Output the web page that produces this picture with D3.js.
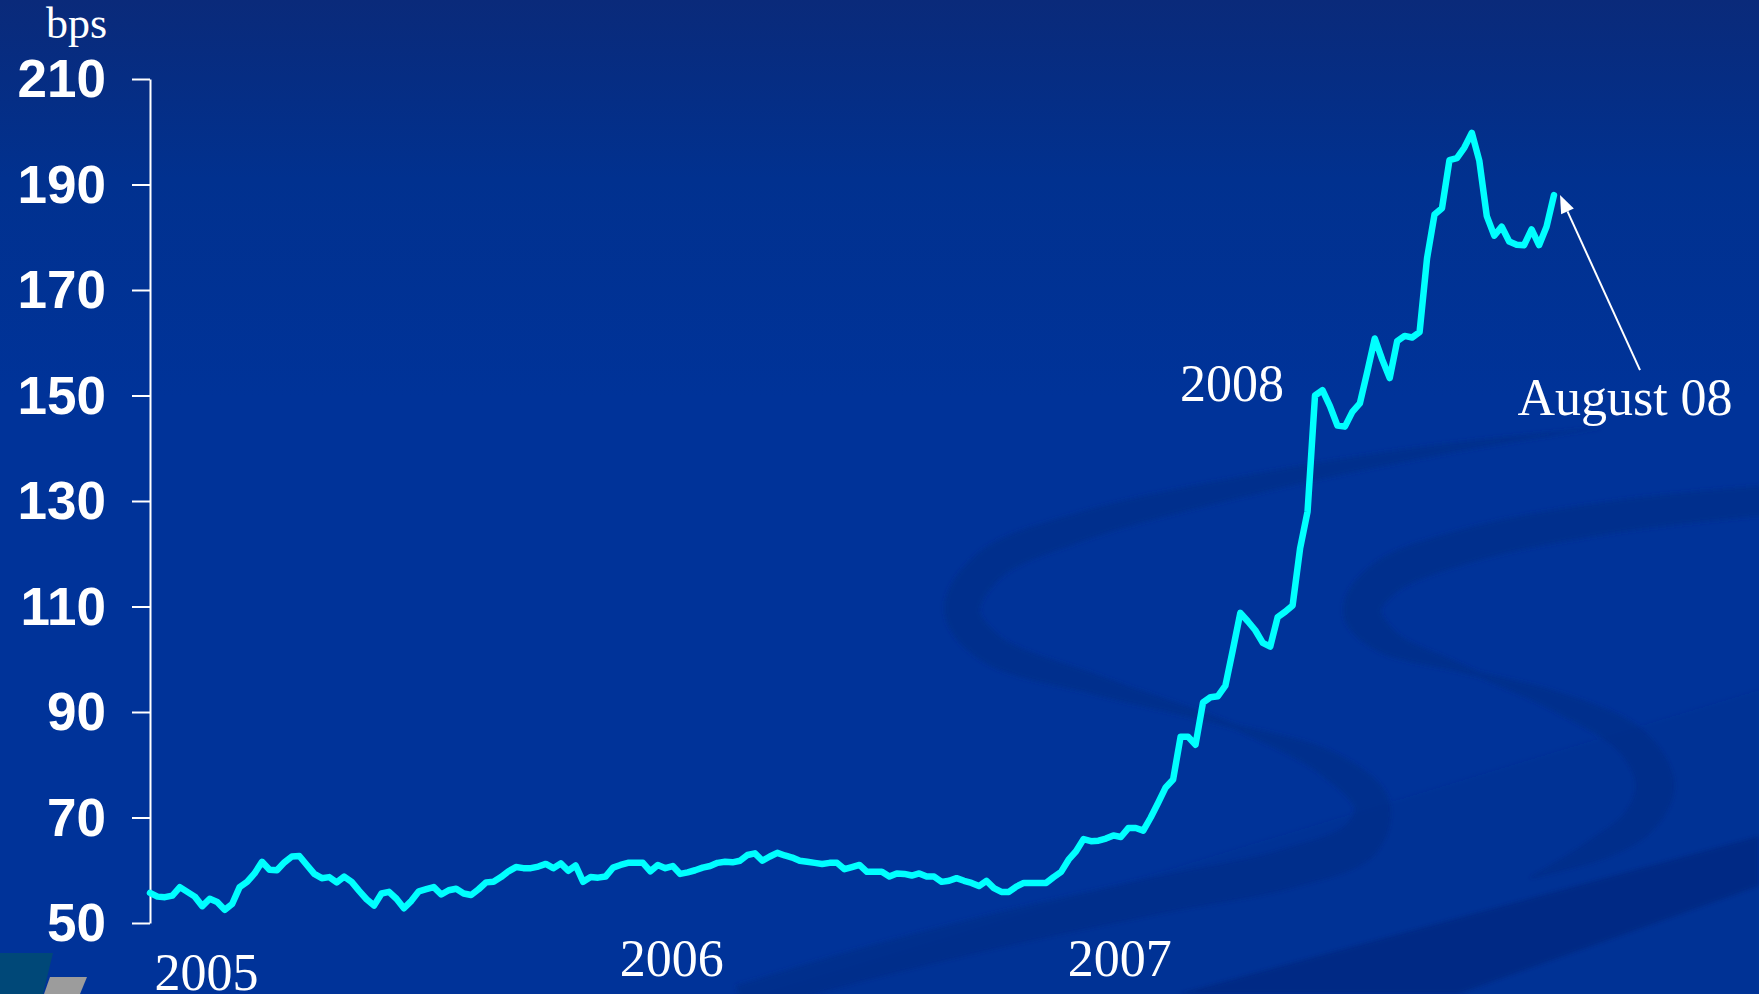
<!DOCTYPE html>
<html>
<head>
<meta charset="utf-8">
<script src="https://cdn.jsdelivr.net/npm/d3@7"></script>
<style>
  html, body { margin: 0; padding: 0; background: #003399; overflow: hidden; }
  svg { display: block; }
</style>
</head>
<body>
<svg id="chart" width="1759" height="994"></svg>
<script>
// Weekly spread observations (bps), first observation week ending 2005-01-07
const firstWeek = "2005-01-07";
const spread = [
  55.7, 55.0, 54.9, 55.2, 56.8, 55.9, 55.0, 53.2, 54.6, 54.0,
  52.5, 53.6, 56.8, 57.8, 59.4, 61.6, 60.1, 60.0, 61.5, 62.6,
  62.7, 61.0, 59.3, 58.5, 58.7, 57.7, 58.8, 57.8, 56.1, 54.5,
  53.3, 55.6, 55.9, 54.6, 52.8, 54.2, 56.0, 56.4, 56.8, 55.4,
  56.2, 56.5, 55.6, 55.3, 56.4, 57.7, 57.8, 58.7, 59.8, 60.6,
  60.4, 60.4, 60.7, 61.2, 60.4, 61.3, 59.9, 60.9, 57.8, 58.7,
  58.6, 58.8, 60.5, 61.0, 61.4, 61.4, 61.4, 59.8, 61.0, 60.4,
  60.8, 59.3, 59.6, 60.0, 60.5, 60.8, 61.4, 61.6, 61.5, 61.8,
  62.9, 63.2, 61.8, 62.6, 63.3, 62.8, 62.4, 61.8, 61.6, 61.4,
  61.2, 61.4, 61.4, 60.2, 60.6, 61.0, 59.7, 59.7, 59.7, 58.8,
  59.4, 59.3, 59.0, 59.4, 58.8, 58.8, 57.8, 58.0, 58.5, 58.0,
  57.6, 57.0, 58.0, 56.6, 55.9, 55.9, 56.9, 57.6, 57.6, 57.6,
  57.6, 58.7, 59.7, 62.0, 63.6, 65.9, 65.5, 65.6, 66.0, 66.6,
  66.3, 68.0, 68.0, 67.5, 70.0, 72.8, 75.7, 77.2, 85.3, 85.3,
  83.8, 91.8, 92.8, 93.0, 95.0, 101.8, 108.8, 107.2, 105.5, 103.1,
  102.4, 108.0, 109.0, 110.2, 121.0, 128.0, 150.0, 151.0, 148.0, 144.3,
  144.1, 146.9, 148.5, 154.5, 160.8, 156.8, 153.3, 160.3, 161.3, 161.0,
  162.0, 176.0, 184.3, 185.5, 194.6, 195.0, 197.0, 199.8, 194.5, 184.0,
  180.3, 182.0, 179.2, 178.6, 178.5, 181.5, 178.5, 182.0, 188.0
];

// Axis ticks and labels
const yTicks = [50, 70, 90, 110, 130, 150, 170, 190, 210];
const unitLabel = "bps";
const yearLabels = ["2005", "2006", "2007", "2008"];
const yearLabelDates = ["2005-03-01", "2006-05-11", "2007-07-05", "2007-12-06"];
const calloutLabel = "August 08";

// ---------------------------------------------------------------
const W = 1759, H = 994;
const svg = d3.select("#chart");
const parse = d3.utcParse("%Y-%m-%d");
const start = parse(firstWeek);
const series = spread.map((v, i) => ({ date: d3.utcDay.offset(start, 7 * i), value: v }));

const x = d3.scaleUtc()
  .domain([series[0].date, series[series.length - 1].date])
  .range([150, 1554]);
const y = d3.scaleLinear().domain([50, 210]).range([923, 79]);

// ---- background -------------------------------------------------
const defs = svg.append("defs");
const bg = defs.append("linearGradient").attr("id", "bgGrad")
  .attr("x1", 0).attr("y1", 0).attr("x2", 0).attr("y2", 1);
bg.append("stop").attr("offset", "0").attr("stop-color", "#0a2a7a");
bg.append("stop").attr("offset", "0.18").attr("stop-color", "#01318f");
bg.append("stop").attr("offset", "0.40").attr("stop-color", "#003399");
bg.append("stop").attr("offset", "1").attr("stop-color", "#003399");
defs.append("filter").attr("id", "soft")
  .append("feGaussianBlur").attr("stdDeviation", 2);

svg.append("rect").attr("width", W).attr("height", H).attr("fill", "url(#bgGrad)");

// decorative ribbons: variable-width band around a smooth centre line
function ribbon(points, tStops, wStops, n = 300) {
  const p = svg.append("path")
    .attr("d", d3.line().curve(d3.curveCatmullRom.alpha(0.5))(points))
    .attr("fill", "none");
  const node = p.node();
  const L = node.getTotalLength();
  const w = d3.scaleLinear().domain(tStops).range(wStops);
  const a = [], b = [];
  for (let i = 0; i <= n; i++) {
    const t = i / n, s = t * L;
    const c = node.getPointAtLength(s);
    const p1 = node.getPointAtLength(Math.max(0, s - 1));
    const p2 = node.getPointAtLength(Math.min(L, s + 1));
    let dx = p2.x - p1.x, dy = p2.y - p1.y;
    const len = Math.hypot(dx, dy) || 1;
    dx /= len; dy /= len;
    const hw = w(t) / 2;
    a.push([c.x - dy * hw, c.y + dx * hw]);
    b.push([c.x + dy * hw, c.y - dx * hw]);
  }
  p.remove();
  return "M" + a.concat(b.reverse()).map(q => q[0].toFixed(1) + "," + q[1].toFixed(1)).join("L") + "Z";
}

const deco = svg.append("g").attr("filter", "url(#soft)");
// broad dark wash toward the lower right
deco.append("path")
  .attr("d", "M760,994 L1759,690 L1759,994 Z")
  .attr("fill", "#002a80").attr("opacity", 0.15);
// left loop
deco.append("path")
  .attr("d", ribbon(
    [[1600,428],[1450,448],[1250,485],[1080,527],[990,565],[962,610],[990,648],[1100,686],
     [1230,725],[1330,765],[1372,805],[1360,840],[1290,868],[1160,895],[1000,930],[850,968],[740,1000]],
    [0, 0.1, 0.28, 0.37, 0.45, 0.54, 0.6, 0.65, 0.75, 0.9, 1],
    [1, 12, 28, 36, 22, 5, 28, 42, 38, 34, 30]))
  .attr("fill", "#002c86").attr("opacity", 0.6);
// right loop
deco.append("path")
  .attr("d", ribbon(
    [[1770,500],[1620,516],[1470,545],[1385,578],[1362,610],[1385,640],[1460,668],[1560,703],
     [1632,742],[1655,785],[1638,822],[1595,850],[1530,878]],
    [0, 0.3, 0.46, 0.52, 0.6, 0.7, 0.83, 0.92, 1],
    [30, 34, 38, 20, 5, 22, 40, 25, 2]))
  .attr("fill", "#002c86").attr("opacity", 0.6);
// diagonal band at the bottom right
deco.append("path")
  .attr("d", "M1178,994 L1759,836 L1759,886 L1458,994 Z")
  .attr("fill", "#002a80").attr("opacity", 0.75);

// corner emblem
svg.append("path").attr("d", "M0,953 L53,953 L43,994 L0,994 Z").attr("fill", "#004878");
svg.append("path").attr("d", "M50,977 L87,977 L80,994 L44,994 Z").attr("fill", "#9c9c9c");

// ---- y axis -------------------------------------------------------
const gy = svg.append("g")
  .attr("transform", "translate(150,0)")
  .call(d3.axisLeft(y).tickValues(yTicks).tickSize(18).tickSizeOuter(0).tickPadding(26));
gy.select(".domain").attr("stroke", "#ffffff").attr("stroke-width", 2);
gy.selectAll(".tick line").attr("stroke", "#ffffff").attr("stroke-width", 2);
gy.selectAll(".tick text")
  .attr("fill", "#ffffff")
  .attr("dy", "0.33em")
  .style("font-family", "'Liberation Sans', Arial, sans-serif")
  .style("font-weight", "bold")
  .style("font-size", "53px");

svg.append("text")
  .attr("x", 107).attr("y", y(210) - 41)
  .attr("text-anchor", "end")
  .attr("fill", "#ffffff")
  .style("font-family", "'Liberation Serif', 'Times New Roman', serif")
  .style("font-size", "44px")
  .text(unitLabel);

// ---- year labels --------------------------------------------------
const serif = "'Liberation Serif', 'Times New Roman', serif";
const yearBaselines = [990, 976, 976, y(149)];
const yearAnchors = ["middle", "middle", "middle", "end"];
yearLabels.forEach((lab, i) => {
  svg.append("text")
    .attr("x", x(parse(yearLabelDates[i])))
    .attr("y", yearBaselines[i])
    .attr("text-anchor", yearAnchors[i])
    .attr("fill", "#ffffff")
    .style("font-family", serif)
    .style("font-size", "52px")
    .text(lab);
});

// ---- spread line --------------------------------------------------
svg.append("path")
  .datum(series)
  .attr("fill", "none")
  .attr("stroke", "#00ffff")
  .attr("stroke-width", 6.5)
  .attr("stroke-linejoin", "round")
  .attr("stroke-linecap", "round")
  .attr("d", d3.line().x(d => x(d.date)).y(d => y(d.value)));

// ---- callout for the latest observation ---------------------------
const last = series[series.length - 1];
const tip = [x(last.date) + 6, y(last.value)];
const tail = [tip[0] + 80, tip[1] + 175];
const ux = (tip[0] - tail[0]), uy = (tip[1] - tail[1]);
const ul = Math.hypot(ux, uy);
const dx = ux / ul, dy = uy / ul;
const headLen = 18, headHalf = 7;
const base = [tip[0] - dx * headLen, tip[1] - dy * headLen];
svg.append("line")
  .attr("x1", tail[0]).attr("y1", tail[1])
  .attr("x2", base[0]).attr("y2", base[1])
  .attr("stroke", "#ffffff").attr("stroke-width", 2);
svg.append("path")
  .attr("d", `M${tip[0]},${tip[1]} L${base[0] - dy * headHalf},${base[1] + dx * headHalf} L${base[0] + dy * headHalf},${base[1] - dx * headHalf} Z`)
  .attr("fill", "#ffffff");
svg.append("text")
  .attr("x", tail[0] - 15).attr("y", tail[1] + 45)
  .attr("text-anchor", "middle")
  .attr("fill", "#ffffff")
  .style("font-family", serif)
  .style("font-size", "52px")
  .text(calloutLabel);
</script>
</body>
</html>
